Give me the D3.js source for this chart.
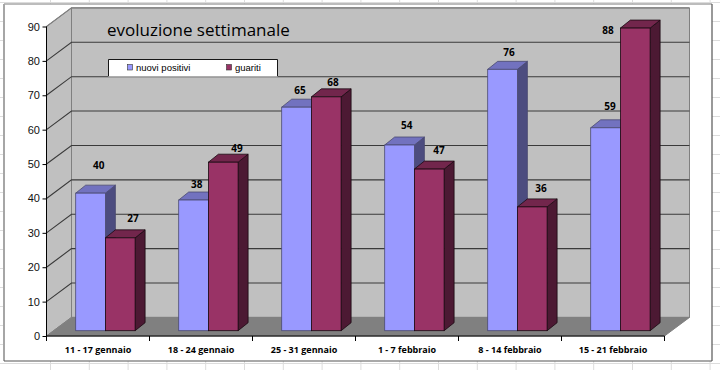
<!DOCTYPE html>
<html>
<head>
<meta charset="utf-8">
<script src="https://d3js.org/d3.v7.min.js"></script>
<style>
  html, body { margin: 0; padding: 0; background: #fff; }
  svg { display: block; }
  .axisLabel { font-family: "Liberation Sans", Arial, sans-serif; font-size: 11px; fill: #111; }
  .catLabel { font-family: "Open Sans", "DejaVu Sans", sans-serif; font-size: 9px; font-weight: bold; fill: #000; }
  .valLabel { font-family: "Open Sans", "DejaVu Sans", sans-serif; font-size: 10px; font-weight: bold; fill: #000; }
</style>
</head>
<body>
<div id="chart"></div>
<script>
"use strict"

const categories = ["11 - 17 gennaio", "18 - 24 gennaio", "25 - 31 gennaio", "1 - 7 febbraio", "8 - 14 febbraio", "15 - 21 febbraio"];
const nuoviPositivi = [40, 38, 65, 54, 76, 59];
const guariti = [27, 49, 68, 47, 36, 88];
const yTicks = [0, 10, 20, 30, 40, 50, 60, 70, 80, 90];
const chartTitle = "evoluzione settimanale";
const seriesNames = ["nuovi positivi", "guariti"];

const width = 720, height = 370;
const depthX = 25, depthY = 18.6;
const barDepthX = 10, barDepthY = 8;

let svg = d3.select("#chart").append("svg")
    .attr("width", width)
    .attr("height", height);

let xScale = d3.scaleBand().domain(categories).range([46.5, 664.5]);
let yScale = d3.scaleLinear().domain([0, 90]).range([336, 26.5]);

// worksheet cells behind the chart
let sheet = svg.append("g").attr("stroke", "#dcdcdc").attr("stroke-width", 1);
d3.range(50.5, 720, 38.8).forEach(function(x) {
  sheet.append("line").attr("x1", x).attr("x2", x).attr("y1", 0).attr("y2", height);
});
d3.range(2.5, 370, 19).forEach(function(y) {
  sheet.append("line").attr("x1", 0).attr("x2", width).attr("y1", y).attr("y2", y);
});

// chart area, lighter on the top and left edges
svg.append("rect")
    .attr("x", 4).attr("y", 4)
    .attr("width", 708).attr("height", 357)
    .attr("fill", "#fff");
let frame = [
  [4, 4, 712, 4, "#a6a6a6", 1.5],
  [4, 4, 4, 361, "#a6a6a6", 2],
  [712, 4, 712, 361, "#555", 1.2],
  [4, 361, 712, 361, "#555", 1.2]
];
frame.forEach(function(f) {
  svg.append("line").attr("x1", f[0]).attr("y1", f[1]).attr("x2", f[2]).attr("y2", f[3])
      .attr("stroke", f[4]).attr("stroke-width", f[5]);
});

let x0 = xScale.range()[0], x1 = xScale.range()[1];
let y0 = yScale(0), yTop = yScale(90);

function pathOf(points) {
  return d3.line()(points) + "Z";
}

// walls and floor
svg.append("path")
    .attr("d", pathOf([[x0 + depthX, yTop - depthY], [x1 + depthX, yTop - depthY], [x1 + depthX, y0 - depthY], [x0 + depthX, y0 - depthY]]))
    .attr("fill", "#c0c0c0").attr("stroke", "#808080");
svg.append("path")
    .attr("d", pathOf([[x0, yTop], [x0 + depthX, yTop - depthY], [x0 + depthX, y0 - depthY], [x0, y0]]))
    .attr("fill", "#c0c0c0").attr("stroke", "#808080");
svg.append("path")
    .attr("d", pathOf([[x0, y0], [x0 + depthX, y0 - depthY], [x1 + depthX, y0 - depthY], [x1, y0]]))
    .attr("fill", "#808080").attr("stroke", "#808080");

// title goes under the gridlines, like the legend it sits on the wall
svg.append("text")
    .attr("x", 107).attr("y", 36)
    .style("font-family", "'Open Sans', sans-serif")
    .style("font-size", "17px")
    .attr("fill", "#000")
    .text(chartTitle);

// gridlines run along the side wall and the back wall
yTicks.slice(1).forEach(function(t) {
  let y = yScale(t);
  let grid = d3.line()([[x0, y], [x0 + depthX, y - depthY], [x1 + depthX, y - depthY]]);
  svg.append("path").attr("d", grid).attr("fill", "none")
      .attr("stroke", t == 90 ? "#808080" : "#3a3a3a").attr("stroke-width", 1.1);
});

// axes
let yAxis = d3.axisLeft(yScale).tickValues(yTicks).tickSize(4).tickPadding(2.5);
let yG = svg.append("g").attr("transform", "translate(" + x0 + ",0)").call(yAxis);
yG.selectAll("text").attr("class", "axisLabel").attr("fill", null);
yG.selectAll("line, path").attr("stroke", "#000");
yG.select(".domain").attr("d", "M0," + yTop + "V" + (y0 + 5));

let xAxisLine = svg.append("g");
xAxisLine.append("line").attr("x1", x0).attr("x2", x1).attr("y1", y0).attr("y2", y0).attr("stroke", "#000");
categories.forEach(function(c) {
  xAxisLine.append("line").attr("x1", xScale(c)).attr("x2", xScale(c)).attr("y1", y0).attr("y2", y0 + 5).attr("stroke", "#000");
});
xAxisLine.append("line").attr("x1", x1).attr("x2", x1).attr("y1", y0).attr("y2", y0 + 5).attr("stroke", "#000");

svg.selectAll(".catLabel").data(categories).enter().append("text")
    .attr("class", "catLabel")
    .attr("x", function(d) { return xScale(d) + xScale.bandwidth() / 2; })
    .attr("y", 353)
    .attr("text-anchor", "middle")
    .text(function(d) { return d; });

// 3D bars
let barWidth = 29.7;
let barShift = 29.2;
let barLift = 5.3;
let bars = [];
categories.forEach(function(c, i) {
  bars.push({cat: c, value: nuoviPositivi[i], off: 0, front: "#9999ff", top: "#7272bf", side: "#4c4c7f", edge: "#4a4a70"});
  bars.push({cat: c, value: guariti[i], off: barWidth, front: "#993366", top: "#72264c", side: "#4c1933", edge: "#1a0a12"});
});

let barG = svg.selectAll(".bar").data(bars).enter().append("g").attr("class", "bar");
barG.each(function(d) {
  let g = d3.select(this);
  let left = xScale(d.cat) + barShift + d.off;
  let right = left + barWidth;
  let base = y0 - barLift;
  let top = yScale(d.value) - barLift;
  g.append("path")
      .attr("d", pathOf([[right, top], [right + barDepthX, top - barDepthY], [right + barDepthX, base - barDepthY], [right, base]]))
      .attr("fill", d.side).attr("stroke", d.edge).attr("stroke-width", 0.8);
  g.append("path")
      .attr("d", pathOf([[left, top], [left + barDepthX, top - barDepthY], [right + barDepthX, top - barDepthY], [right, top]]))
      .attr("fill", d.top).attr("stroke", d.edge).attr("stroke-width", 0.8);
  g.append("rect")
      .attr("x", left).attr("y", top).attr("width", barWidth).attr("height", base - top)
      .attr("fill", d.front).attr("stroke", d.edge).attr("stroke-width", 0.8);
});

// value labels were dragged by hand in the original
let labelSpot = [[98.7, 165.5], [133, 218], [196.7, 184.5], [237, 148], [300, 90], [333, 82.7], [406.7, 125], [439, 150], [509, 52], [541, 188], [610, 106], [608, 30.5]];
svg.selectAll(".valLabel").data(bars).enter().append("text")
    .attr("class", "valLabel")
    .attr("x", function(d, i) { return labelSpot[i][0]; })
    .attr("y", function(d, i) { return labelSpot[i][1] + 3.5; })
    .attr("text-anchor", "middle")
    .text(function(d) { return d.value; });

// legend
let legend = svg.append("g");
legend.append("rect").attr("x", 108.5).attr("y", 59.5).attr("width", 169).attr("height", 17)
    .attr("fill", "#fff");
legend.append("path").attr("d", "M108.5,76V59.5H277.5V76")
    .attr("fill", "none").attr("stroke", "#000").attr("stroke-width", 0.9);
let legendColors = ["#9999ff", "#993366"];
let legendX = [127.5, 226.5];
seriesNames.forEach(function(n, i) {
  legend.append("rect").attr("x", legendX[i]).attr("y", 64.5).attr("width", 5).attr("height", 5.5)
      .attr("fill", legendColors[i]).attr("stroke", "#333").attr("stroke-width", 0.6);
  legend.append("text").attr("x", legendX[i] + 8.5).attr("y", 71)
      .style("font-family", "'Liberation Sans', sans-serif").style("font-size", "9.5px")
      .text(n);
});
</script>
</body>
</html>
